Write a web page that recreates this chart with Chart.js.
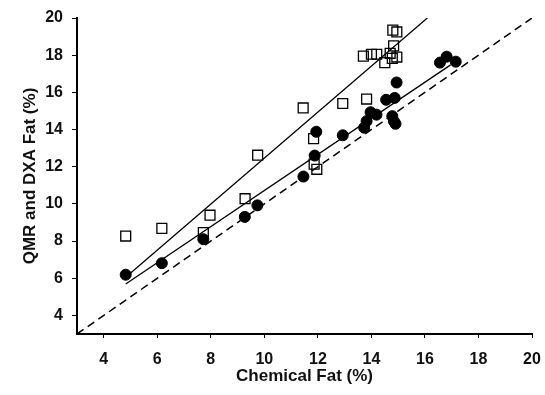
<!DOCTYPE html>
<html>
<head>
<meta charset="utf-8">
<script src="https://cdn.jsdelivr.net/npm/chart.js@4.4.0/dist/chart.umd.min.js"></script>
<style>
  body { margin: 0; background: #fff; }
  #wrap { width: 545px; height: 395px; }
</style>
</head>
<body>
<div id="wrap"><canvas id="myChart" width="545" height="395"></canvas></div>
<script>
// squares (open) - chemical fat vs measured
var sq_x = [4.82, 6.17, 7.97, 7.72, 9.28, 9.75, 11.45, 12.93, 13.82, 11.84, 11.86, 11.96,
            14.8, 14.95, 14.83, 13.7, 14.0, 14.2, 14.5, 14.7, 14.78, 14.95]
var sq_y = [8.27, 8.68, 9.39, 8.46, 10.28, 12.62, 15.16, 15.4, 15.64, 13.51, 12.14, 11.86,
            19.35, 19.25, 18.5, 17.95, 18.05, 18.05, 17.6, 18.1, 17.83, 17.9]
// circles (filled)
var ci_x = [4.82, 6.17, 7.72, 9.27, 9.74, 11.46, 11.88, 11.94, 12.93, 13.73, 13.82, 13.97,
            14.19, 14.55, 14.87, 14.94, 14.78, 14.84, 14.9, 16.56, 16.81, 17.15]
var ci_y = [6.19, 6.81, 8.1, 9.3, 9.92, 11.47, 12.6, 13.88, 13.69, 14.1, 14.45, 14.93,
            14.8, 15.6, 15.7, 16.53, 14.72, 14.45, 14.31, 17.6, 17.92, 17.65]
// regression lines (end points) and line of identity
var linha_sq_x = [4.83, 16.09]
var linha_sq_y = [6.07, 20]
var linha_ci_x = [4.82, 16.96]
var linha_ci_y = [5.69, 17.48]
var ident_x = [3, 20]
var ident_y = [3, 20]
var ticks_x = [4, 6, 8, 10, 12, 14, 16, 18, 20]
var ticks_y = [4, 6, 8, 10, 12, 14, 16, 18, 20]

function pontos(xs, ys) {
  var out = []
  for (var i = 0; i < xs.length; i++) out.push({ x: xs[i], y: ys[i] })
  return out
}

function grafico() {
  Chart.defaults.font.family = "'Liberation Sans', Arial, sans-serif"
  Chart.defaults.color = "#111"
  var ctx = document.getElementById("myChart").getContext("2d")
  var myChart = new Chart(ctx, {
    type: "scatter",
    data: {
      datasets: [
        {
          label: "circles",
          data: pontos(ci_x, ci_y),
          pointStyle: "circle",
          pointRadius: 5.5,
          backgroundColor: "#000",
          borderColor: "#000",
          borderWidth: 1,
        },
        {
          label: "squares",
          data: pontos(sq_x, sq_y),
          pointStyle: "rect",
          pointRadius: 7,
          backgroundColor: "rgba(0,0,0,0)",
          borderColor: "#000",
          borderWidth: 1.3,
        },
        {
          label: "fit squares",
          data: pontos(linha_sq_x, linha_sq_y),
          showLine: true,
          pointRadius: 0,
          borderColor: "#000",
          borderWidth: 1.3,
        },
        {
          label: "fit circles",
          data: pontos(linha_ci_x, linha_ci_y),
          showLine: true,
          pointRadius: 0,
          borderColor: "#000",
          borderWidth: 1.3,
        },
        {
          label: "identity",
          data: pontos(ident_x, ident_y),
          showLine: true,
          pointRadius: 0,
          borderColor: "#000",
          borderWidth: 1.5,
          borderDash: [8, 5],
        },
      ],
    },
    options: {
      responsive: false,
      animation: false,
      layout: { padding: { top: 18, right: 13, bottom: 0, left: 0 } },
      plugins: { legend: { display: false }, tooltip: { enabled: false } },
      scales: {
        x: {
          type: "linear",
          min: 3,
          max: 20,
          afterBuildTicks: function (s) { s.ticks = ticks_x.map(function (v) { return { value: v } }) },
          afterFit: function (s) { s.height = 61; s.paddingLeft = 0; s.paddingRight = 0 },
          border: { color: "#000", width: 2 },
          grid: { drawOnChartArea: false, tickLength: 4, tickColor: "#000", tickWidth: 1 },
          ticks: { font: { size: 16, weight: "bold" }, padding: 12, maxRotation: 0 },
          title: {
            display: true,
            text: "Chemical Fat (%)",
            font: { size: 17, weight: "bold" },
            padding: { top: 0, bottom: 8 },
          },
        },
        y: {
          type: "linear",
          min: 3,
          max: 20,
          afterBuildTicks: function (s) { s.ticks = ticks_y.map(function (v) { return { value: v } }) },
          afterFit: function (s) { s.width = 77; s.paddingTop = 0; s.paddingBottom = 0 },
          border: { color: "#000", width: 2 },
          grid: { drawOnChartArea: false, tickLength: 5, tickColor: "#000", tickWidth: 1 },
          ticks: { font: { size: 16, weight: "bold" }, padding: 9 },
          title: {
            display: true,
            text: "QMR and DXA Fat (%)",
            font: { size: 17, weight: "bold" },
            padding: { top: 20, bottom: 0 },
          },
        },
      },
    },
  })
}

grafico()
</script>
</body>
</html>
